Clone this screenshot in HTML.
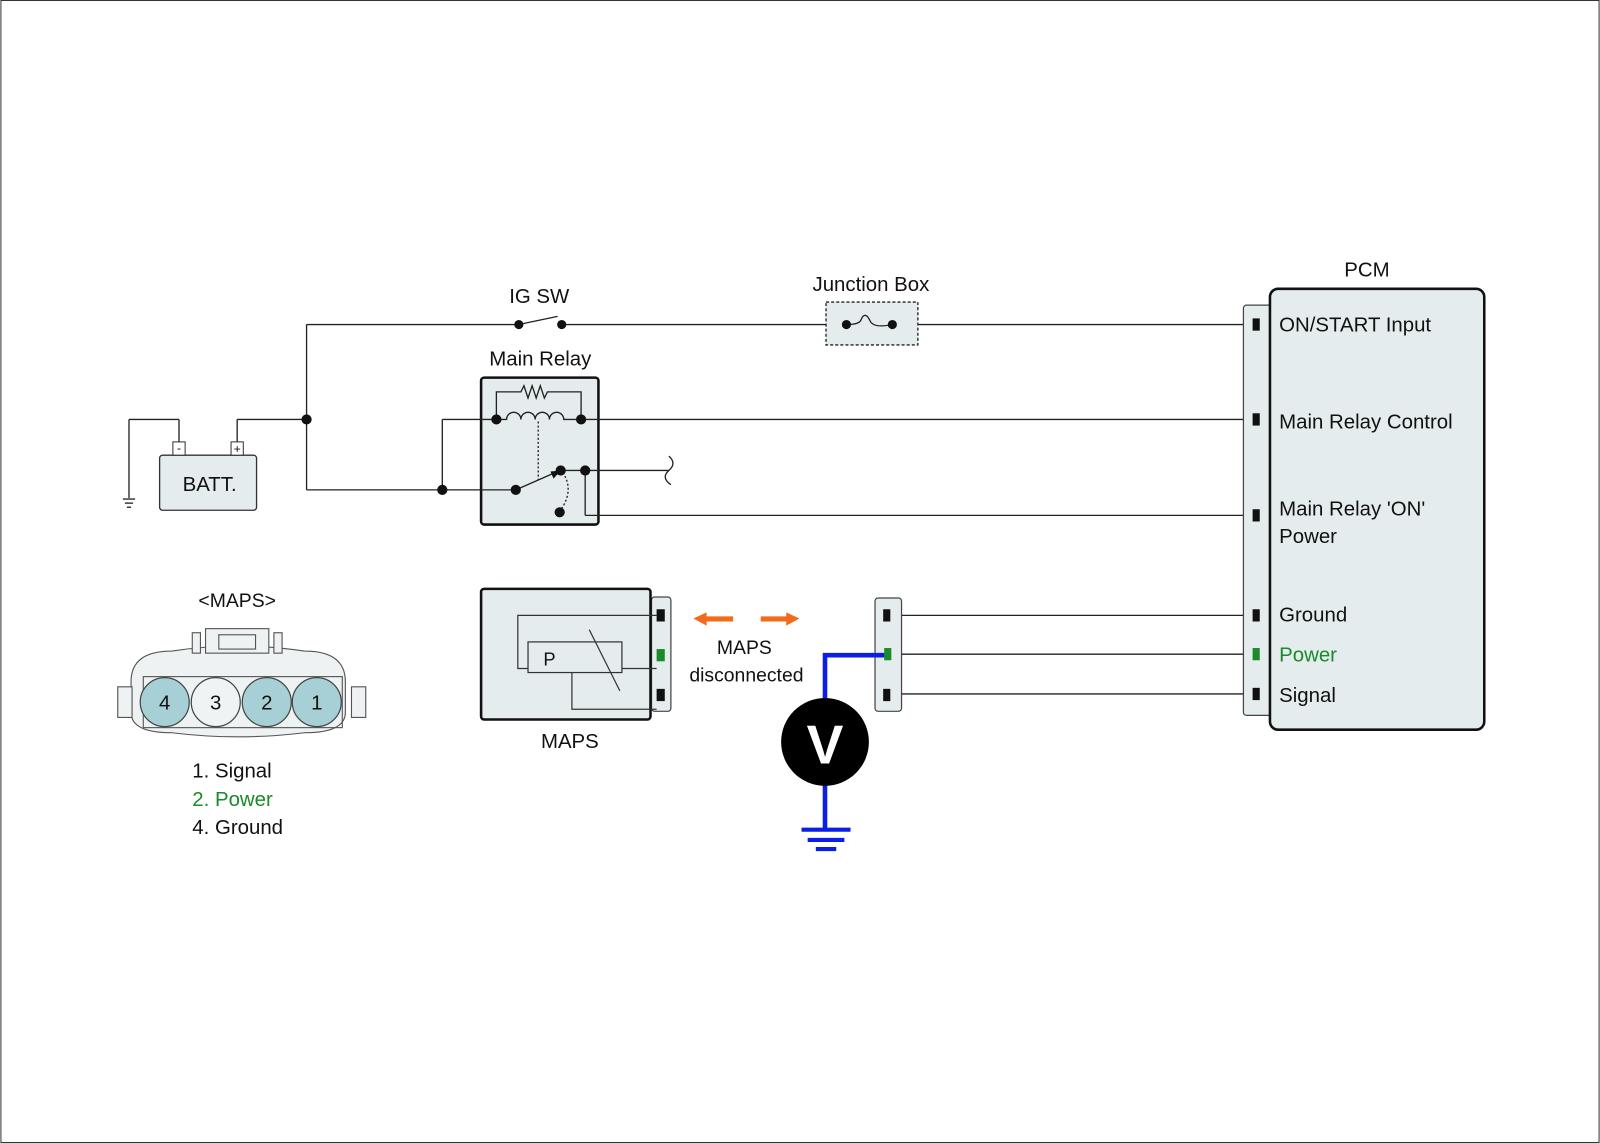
<!DOCTYPE html>
<html><head><meta charset="utf-8"><style>
html,body{margin:0;padding:0;background:#fff}
svg{display:block}
text{font-family:"Liberation Sans",sans-serif;fill:#111}
</style></head><body>
<svg width="1600" height="1143" viewBox="0 0 1567 1120" xmlns="http://www.w3.org/2000/svg">
<rect x="0.5" y="0.5" width="1566" height="1119" fill="#fff" stroke="#333" stroke-width="1"/>
<!-- main relay box first -->
<rect x="471" y="370" width="115" height="144" rx="3" fill="#e4ecee" stroke="#111" stroke-width="2.5"/>
<g stroke="#222" stroke-width="1.3" fill="none">
<line x1="300" y1="318" x2="508" y2="318"/>
<line x1="550" y1="318" x2="810" y2="318"/>
<line x1="898" y1="318" x2="1230" y2="318"/>
<line x1="300" y1="318" x2="300" y2="480"/>
<line x1="232" y1="411" x2="300" y2="411"/>
<line x1="232" y1="411" x2="232" y2="434"/>
<line x1="126" y1="411" x2="175" y2="411"/>
<line x1="175" y1="411" x2="175" y2="434"/>
<line x1="126" y1="411" x2="126" y2="488"/>
<line x1="120" y1="489" x2="132" y2="489"/><line x1="122" y1="493" x2="130" y2="493"/><line x1="124" y1="497" x2="128" y2="497"/>
<line x1="300" y1="480" x2="505" y2="480"/>
<line x1="433" y1="411" x2="433" y2="480"/>
<line x1="433" y1="411" x2="486" y2="411"/>
<line x1="569" y1="411" x2="1230" y2="411"/>
<line x1="549" y1="461" x2="655" y2="461"/>
<path d="M655 447 q8 7 0 14 q-8 7 2 14"/>
<line x1="573" y1="461" x2="573" y2="505"/>
<line x1="573" y1="505" x2="1230" y2="505"/>
<line x1="868" y1="603" x2="1230" y2="603"/>
<line x1="868" y1="641" x2="1230" y2="641"/>
<line x1="868" y1="680" x2="1230" y2="680"/>
<line x1="508" y1="318" x2="546" y2="310"/>
</g>
<!-- battery -->
<rect x="156" y="446" width="95" height="54" rx="3" fill="#e4ecee" stroke="#333" stroke-width="1.3"/>
<rect x="169" y="433" width="12" height="13" fill="#fff" stroke="#333"/>
<rect x="226" y="433" width="12" height="13" fill="#fff" stroke="#333"/>
<text x="175" y="443" font-size="12" text-anchor="middle">-</text>
<text x="232" y="444" font-size="12" text-anchor="middle">+</text>
<text x="205" y="481" font-size="20" text-anchor="middle">BATT.</text>
<text x="528" y="297" font-size="20" text-anchor="middle">IG SW</text>
<!-- junction box -->
<rect x="809" y="296" width="90" height="42" fill="#e4ecee" stroke="#222" stroke-width="1.3" stroke-dasharray="3,2"/>
<path d="M829 318 q12 0 14 -4 q4 -10 9 0 q3 8 22 4" fill="none" stroke="#222" stroke-width="1.3"/>
<text x="853" y="285" font-size="20" text-anchor="middle">Junction Box</text>
<text x="529" y="358" font-size="20" text-anchor="middle">Main Relay</text>
<g stroke="#222" stroke-width="1.3" fill="none">
<path d="M486 411 V384 H510 l3 -6 l4 12 l4 -12 l4 12 l4 -12 l4 12 l3 -6 H569 V411"/>
<path d="M486 411 h10 a7 7 0 0 1 14 0 a7 7 0 0 1 14 0 a7 7 0 0 1 14 0 a7 7 0 0 1 14 0 h17"/>
<line x1="527" y1="413" x2="527" y2="470" stroke-dasharray="2,2"/>
<line x1="505" y1="480" x2="546" y2="462"/>
<path d="M551 463 q12 18 -3 38" stroke-dasharray="2,2"/>
</g>
<polygon points="549,461 539,462 542,469" fill="#111"/>
<g fill="#111">
<circle cx="508" cy="318" r="4.5"/><circle cx="550" cy="318" r="4.5"/>
<circle cx="829" cy="318" r="4.5"/><circle cx="874" cy="318" r="4.5"/>
<circle cx="300" cy="411" r="5"/><circle cx="433" cy="480" r="5"/>
<circle cx="486" cy="411" r="5"/><circle cx="569" cy="411" r="5"/>
<circle cx="505" cy="480" r="5"/><circle cx="549" cy="461" r="5"/><circle cx="573" cy="461" r="5"/>
<circle cx="548" cy="502" r="5"/>
</g>
<!-- PCM -->
<text x="1339" y="271" font-size="20" text-anchor="middle">PCM</text>
<rect x="1218" y="299" width="40" height="402" rx="3" fill="#e4ecee" stroke="#444" stroke-width="1.2"/>
<rect x="1244" y="283" width="210" height="432" rx="8" fill="#e4ecee" stroke="#111" stroke-width="2.5"/>
<g fill="#111">
<rect x="1227" y="312" width="7" height="12"/><rect x="1227" y="405" width="7" height="12"/>
<rect x="1227" y="499" width="7" height="12"/><rect x="1227" y="597" width="7" height="12"/>
<rect x="1227" y="674" width="7" height="12"/>
</g>
<rect x="1227" y="635" width="7" height="12" fill="#1a8a2a"/>
<g font-size="20">
<text x="1253" y="325">ON/START Input</text>
<text x="1253" y="420">Main Relay Control</text>
<text x="1253" y="505">Main Relay 'ON'</text>
<text x="1253" y="532">Power</text>
<text x="1253" y="609">Ground</text>
<text x="1253" y="648" style="fill:#1a8a2a">Power</text>
<text x="1253" y="688">Signal</text>
</g>
<!-- MAPS sensor -->
<rect x="638" y="585" width="19" height="112" rx="3" fill="#e4ecee" stroke="#444" stroke-width="1.2"/>
<rect x="471" y="577" width="166" height="128" rx="3" fill="#e4ecee" stroke="#111" stroke-width="2.5"/>
<g stroke="#333" stroke-width="1.2" fill="none">
<path d="M643 603 H507 V655 H517"/>
<rect x="517" y="629" width="92" height="30"/>
<path d="M609 655 H643"/>
<path d="M560 659 V695 H643"/>
<line x1="577" y1="617" x2="607" y2="677"/>
</g>
<rect x="643" y="597" width="8" height="12" fill="#111"/>
<rect x="643" y="636" width="8" height="12" fill="#1a8a2a"/>
<rect x="643" y="675" width="8" height="12" fill="#111"/>
<text x="532" y="652" font-size="18">P</text>
<text x="558" y="733" font-size="20" text-anchor="middle">MAPS</text>
<g fill="#f26a1b"><polygon points="679,606 692,600 692,604 718,604 718,609 692,609 692,613"/>
<polygon points="783,606 770,600 770,604 745,604 745,609 770,609 770,613"/></g>
<text x="729" y="641" font-size="19" text-anchor="middle">MAPS</text>
<text x="731" y="668" font-size="19" text-anchor="middle">disconnected</text>
<rect x="857" y="586" width="26" height="111" rx="3" fill="#e4ecee" stroke="#444" stroke-width="1.2"/>
<rect x="865" y="597" width="7" height="12" fill="#111"/>
<rect x="865" y="675" width="7" height="12" fill="#111"/>
<path d="M808 690 V642 H870" fill="none" stroke="#0a1ee6" stroke-width="4.5"/>
<rect x="866" y="635" width="7" height="12" fill="#1a8a2a"/>
<line x1="808" y1="760" x2="808" y2="812" stroke="#0a1ee6" stroke-width="4.5"/>
<g stroke="#0a1ee6" stroke-width="4"><line x1="785" y1="813" x2="833" y2="813"/><line x1="791" y1="823" x2="827" y2="823"/><line x1="799" y1="832" x2="819" y2="832"/></g>
<circle cx="808" cy="727" r="43" fill="#000"/>
<text x="808" y="748" font-size="54" font-weight="bold" text-anchor="middle" style="fill:#fff">V</text>
<text x="232" y="595" font-size="19" text-anchor="middle">&lt;MAPS&gt;</text>
<g stroke="#555" stroke-width="1.1" fill="#eef2f3">
<path d="M128 668 q0 -30 40 -30 q65 -10 130 0 q40 0 40 30 v30 q0 20 -40 20 q-65 8 -130 0 q-40 0 -40 -20 z"/>
<rect x="115" y="673" width="14" height="30"/><rect x="344" y="673" width="14" height="30"/>
<rect x="201" y="616" width="62" height="24"/>
<rect x="214" y="622" width="36" height="14" fill="none"/>
<rect x="188" y="620" width="8" height="20"/><rect x="268" y="620" width="8" height="20"/>
<rect x="140" y="663" width="195" height="50" fill="none"/>
</g>
<g stroke="#444" stroke-width="1.2">
<circle cx="161" cy="688" r="24" fill="#a6cfd6"/>
<circle cx="211" cy="688" r="24" fill="#f0f3f4"/>
<circle cx="261" cy="688" r="24" fill="#a6cfd6"/>
<circle cx="310" cy="688" r="24" fill="#a6cfd6"/>
</g>
<g font-size="20" text-anchor="middle"><text x="161" y="695">4</text><text x="211" y="695">3</text><text x="261" y="695">2</text><text x="310" y="695">1</text></g>
<g font-size="20">
<text x="188" y="762">1. Signal</text>
<text x="188" y="790" style="fill:#1a8a2a">2. Power</text>
<text x="188" y="817">4. Ground</text>
</g>
</svg>
</body></html>
